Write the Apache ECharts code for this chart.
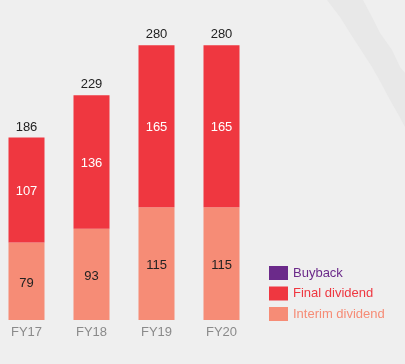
<!DOCTYPE html>
<html><head><meta charset="utf-8">
<script src="https://cdn.jsdelivr.net/npm/echarts@6/dist/echarts.min.js"></script>
<style>html,body{margin:0;padding:0;background:#efefef;overflow:hidden;}#c{position:absolute;left:-6px;top:0;width:411px;height:364px;}</style>
</head><body><div id="c"></div>
<script>
var categories = ['FY17', 'FY18', 'FY19', 'FY20'];
var interimDividend = [79, 93, 115, 115];
var finalDividend = [107, 136, 165, 165];
var buyback = [0, 0, 0, 0];
var totals = [186, 229, 280, 280];

var chart = echarts.init(document.getElementById('c'));
var font = 'Liberation Sans, Arial, sans-serif';
var dx = 6;
var swoosh = [[327,0],[340,17],[350,33],[361,50],[372,67],[381,83],[390,100],[398,114],[405,127],
              [405,73],[400,67],[392,50],[380,33],[372,17],[363,0]].map(function (p) { return [p[0] + dx, p[1]]; });
chart.setOption({
  backgroundColor: '#efefef',
  animation: false,
  graphic: [{
    type: 'polygon', z: -10, silent: true,
    shape: { points: swoosh },
    style: { fill: '#e8e8e8' }
  }],
  grid: { left: 0, width: 260, top: 25.7, bottom: 44 },
  xAxis: {
    type: 'category', data: categories,
    axisLine: { show: false }, axisTick: { show: false },
    axisLabel: { color: '#8a8a8a', fontSize: 13, fontFamily: font, margin: 6 }
  },
  yAxis: { type: 'value', min: 0, max: 300, show: false, splitLine: { show: false } },
  legend: {
    orient: 'vertical', left: 269 + dx, top: 266, padding: 0,
    itemWidth: 19, itemHeight: 14, itemGap: 6.5,
    icon: 'rect',
    data: [
      { name: 'Buyback', textStyle: { color: '#6b2a8a' } },
      { name: 'Final dividend', textStyle: { color: '#ef3740' } },
      { name: 'Interim dividend', textStyle: { color: '#f68c76' } }
    ],
    textStyle: { fontSize: 13, fontFamily: font },
    selectedMode: false
  },
  series: [
    { name: 'Interim dividend', type: 'bar', stack: 's', barWidth: 36, data: interimDividend,
      itemStyle: { color: '#f68c76' },
      label: { show: true, position: 'inside', color: '#222', fontSize: 13, fontFamily: font, offset: [0, 2] } },
    { name: 'Final dividend', type: 'bar', stack: 's', barWidth: 36, data: finalDividend,
      itemStyle: { color: '#ef3740' },
      label: { show: true, position: 'inside', color: '#fff', fontSize: 13, fontFamily: font, offset: [0, 1] } },
    { name: 'Buyback', type: 'bar', stack: 's', barWidth: 36, data: buyback,
      itemStyle: { color: '#6b2a8a' },
      label: { show: true, position: 'top', distance: 4, color: '#222', fontSize: 13, fontFamily: font,
        formatter: function (p) { return totals[p.dataIndex]; } } }
  ]
});
</script></body></html>
